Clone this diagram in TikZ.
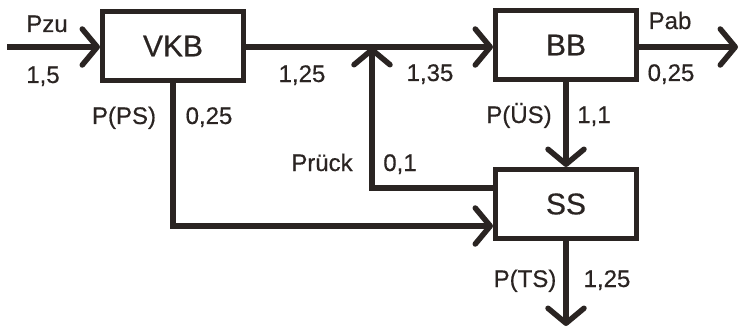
\documentclass[tikz,border=0pt]{standalone}
\usepackage{fontspec}
\setmainfont[FakeBold=0.5]{Liberation Sans}
\usetikzlibrary{arrows.meta}
\definecolor{ink}{RGB}{42,36,34}
\begin{document}
\begin{tikzpicture}[x=1pt,y=-1pt,
  box/.style={draw=ink, text=ink, line width=5pt, minimum width=141pt, minimum height=69pt, inner sep=0pt, font=\fontsize{30}{36}\selectfont},
  lbl/.style={anchor=base, inner sep=0pt, text=ink, font=\fontsize{24}{28}\selectfont},
  flow/.style={draw=ink, line width=5.5pt, -{Straight Barb[length=15pt,width=36pt,round]}}]
\useasboundingbox (0,0) rectangle (742,329);
\node[box] (VKB) at (173,46) {VKB};
\node[box] (BB) at (566,45) {BB};
\node[box] (SS) at (566,204) {SS};
\coordinate (in) at (7,47);
\coordinate (J) at (372,47);
\coordinate (outR) at (738,47);
\coordinate (outB) at (566,326);
\draw[flow] (in) -- (in -| VKB.west);
\draw[flow] (VKB.east |- J) -- (J -| BB.west);
\draw[flow] (BB.east |- outR) -- (outR);
\draw[flow] (BB.south) -- (SS.north);
\draw[flow] (SS.south) -- (outB);
\draw[flow] ([yshift=16pt]SS.west) -| (J);
\draw[flow] (VKB.south) |- ([yshift=-22pt]SS.west);
\node[lbl] (pzu) at (47,32) {Pzu};
\node[lbl] (n15) at (43,83) {1,5};
\node[lbl] (n125a) at (302,82) {1,25};
\node[lbl] (pps) at (124,124) {P(PS)};
\node[lbl] (n025a) at (209,124) {0,25};
\node[lbl] (pr) at (322,171) {Prück};
\node[lbl] (n01) at (400,171) {0,1};
\node[lbl] (n135) at (430,81) {1,35};
\node[lbl] (pab) at (670,29) {Pab};
\node[lbl] (n025b) at (671,81) {0,25};
\node[lbl] (pus) at (519,123) {P(ÜS)};
\node[lbl] (n11) at (594,123) {1,1};
\node[lbl] (pts) at (525,287) {P(TS)};
\node[lbl] (n125b) at (607,287) {1,25};
\end{tikzpicture}
\end{document}
